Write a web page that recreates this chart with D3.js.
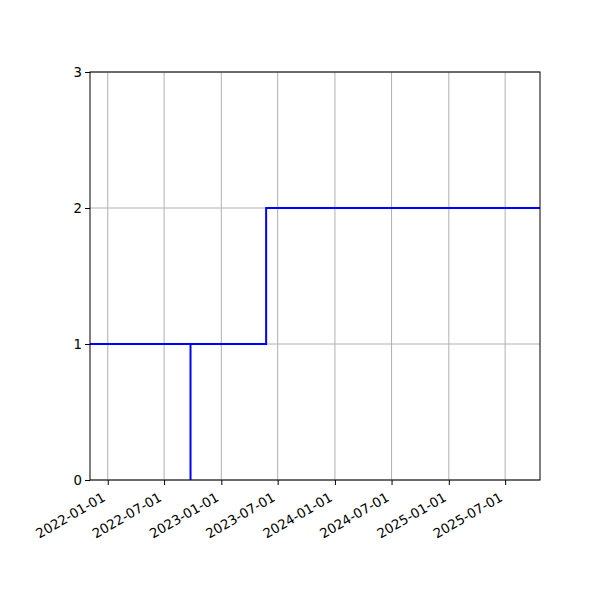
<!DOCTYPE html>
<html>
<head>
<meta charset="utf-8">
<script src="https://cdn.jsdelivr.net/npm/d3@7"></script>
<style>
  body { margin: 0; background: #fff; }
  text { font-family: "DejaVu Sans", sans-serif; }
</style>
</head>
<body>
<div id="chart"></div>
<script>
// dados do degrau (datas e valores)
const dates = ["2021-11-05", "2022-09-24", "2022-09-24", "2023-05-25", "2025-10-21"];
const values = [1, 0, 1, 2, 2];
const xTicks = ["2022-01-01", "2022-07-01", "2023-01-01", "2023-07-01", "2024-01-01", "2024-07-01", "2025-01-01", "2025-07-01"];
const yTicks = [0, 1, 2, 3];
const xStart = "2021-11-05", xEnd = "2025-10-21";

const margin = {top: 72, right: 60, bottom: 120, left: 90},
      width = 600 - margin.left - margin.right,
      height = 600 - margin.top - margin.bottom;

const parse = d3.utcParse("%Y-%m-%d");
const data = dates.map((d, i) => ({date: parse(d), value: values[i]}));

const svg = d3.select("#chart")
    .append("svg")
    .attr("width", 600)
    .attr("height", 600)
    .append("g")
    .attr("transform", `translate(${margin.left},${margin.top})`);

const x = d3.scaleUtc()
    .domain([parse(xStart), parse(xEnd)])
    .range([0, width]);

const y = d3.scaleLinear()
    .domain([0, 3])
    .range([height, 0]);

// grade
svg.append("g")
    .selectAll("line.gx")
    .data(xTicks.map(parse))
    .join("line")
    .attr("x1", d => x(d)).attr("x2", d => x(d))
    .attr("y1", 0).attr("y2", height)
    .attr("stroke", "#b0b0b0").attr("stroke-width", 1);

svg.append("g")
    .selectAll("line.gy")
    .data(yTicks)
    .join("line")
    .attr("x1", 0).attr("x2", width)
    .attr("y1", d => y(d)).attr("y2", d => y(d))
    .attr("stroke", "#b0b0b0").attr("stroke-width", 1);

// linha em degrau
const line = d3.line()
    .x(d => x(d.date))
    .y(d => y(d.value))
    .curve(d3.curveStepAfter);

svg.append("path")
    .datum(data)
    .attr("fill", "none")
    .attr("stroke", "blue")
    .attr("stroke-width", 2)
    .attr("d", line);

// eixos
const xAxis = svg.append("g")
    .attr("transform", `translate(0,${height})`)
    .call(d3.axisBottom(x).tickValues(xTicks.map(parse)).tickFormat(d3.utcFormat("%Y-%m-%d")).tickSizeInner(5).tickSizeOuter(0));

xAxis.selectAll("text")
    .attr("text-anchor", "end")
    .attr("dy", null)
    .attr("y", 0)
    .attr("transform", "translate(-2,20) rotate(-30)");

const yAxis = svg.append("g")
    .call(d3.axisLeft(y).tickValues(yTicks).tickFormat(d3.format("d")).tickSizeInner(5).tickSizeOuter(0));

svg.selectAll(".tick text").attr("font-size", 13.3).attr("font-family", "DejaVu Sans").attr("fill", "#000");
svg.selectAll(".domain").remove();

// moldura
svg.append("rect")
    .attr("width", width).attr("height", height)
    .attr("fill", "none").attr("stroke", "#000").attr("stroke-width", 1);
</script>
</body>
</html>
